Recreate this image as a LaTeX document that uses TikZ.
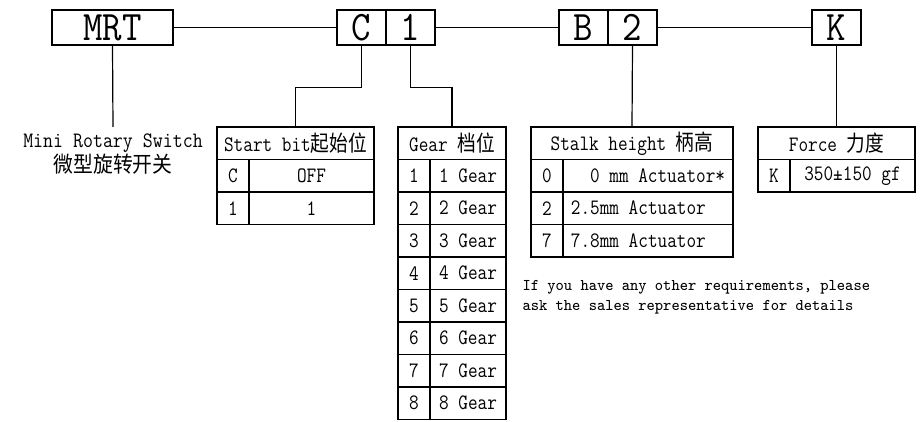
\documentclass[tikz,border=0pt]{standalone}
\usepackage{graphicx}
\usepackage{fontspec}
\newfontfamily\cjk{Noto Sans CJK SC}
\newcommand{\narrow}[2][0.85]{\scalebox{#1}[1]{#2}}
\usepackage{tikz}
\usetikzlibrary{calc}

\begin{document}
\begin{tikzpicture}[x=0.5pt,y=-0.5pt,line width=0.6pt,
		code/.style={draw,inner sep=0pt,minimum height=17.5pt,minimum width=24.5pt,font=\ttfamily\fontsize{21}{21}\selectfont},
		cell/.style={draw,inner sep=0pt,outer sep=0pt,minimum height=16.25pt,font=\ttfamily\fontsize{11}{12}\selectfont},
		keycell/.style={cell,minimum width=16pt}]
			\useasboundingbox (0,0) rectangle (922,422);
			%	codes
			\node[code,minimum width=60.5pt] (MRT) at (112.5,27.5){\narrow[0.9]{MRT}};
			\node[code] (C) at (361.5,27.5){\narrow[0.9]{C}};
			\node[code] (one) at (410.5,27.5){\narrow[0.9]{1}};
			\node[code] (B) at (583.5,27.5){\narrow[0.9]{B}};
			\node[code] (two) at (632.5,27.5){\narrow[0.9]{2}};
			\node[code] (K) at (836.5,27.5){\narrow[0.9]{K}};
			\node[anchor=north,align=center,inner sep=3pt,font=\ttfamily\fontsize{11}{10}\selectfont] (name) at (113,127){\narrow[0.88]{Mini Rotary Switch}\\\narrow[0.9]{\cjk 微型旋转开关}};
			%	start bit
			\node[cell,minimum width=78.5pt] (start) at (295.5,143.25){\narrow{Start bit{\cjk 起始位}}};
			\foreach \k/\v [count=\i] in {C/OFF,1/1}{
				\node[keycell] (s\i) at (233,143.25+32.5*\i){\narrow{\k}};
				\node[cell,minimum width=62.5pt] (sv\i) at (311.5,143.25+32.5*\i){\narrow{\v}};
			}
			%	gear
			\node[cell,minimum width=54pt] (gear) at (452,143.25){\narrow{Gear {\cjk 档位}}};
			\foreach \i in {1,...,8}{
				\node[keycell] (g\i) at (414,143.25+32.5*\i){\narrow{\i}};
				\node[cell,minimum width=38pt] (gv\i) at (468,143.25+32.5*\i){\narrow{\i{} Gear}};
			}
			%	stalk height
			\node[cell,minimum width=101pt] (stalk) at (632,143.25){\narrow{Stalk height {\cjk 柄高}}};
			\foreach \k/\v [count=\i] in {0/\ \ 0 mm Actuator*,2/2.5mm Actuator\ \ ,7/7.8mm Actuator\ \ }{
				\node[keycell] (h\i) at (547,143.25+32.5*\i){\narrow{\k}};
				\node[cell,minimum width=85pt] (hv\i) at (648,143.25+32.5*\i){\narrow{\v}};
			}
			%	force
			\node[cell,minimum width=78.5pt] (force) at (836.5,143.25){\narrow{Force {\cjk 力度}}};
			\node[keycell] (f1) at (774,175.75){\narrow{K}};
			\node[cell,minimum width=62.5pt] (fv1) at (852.5,175.75){\narrow{350±150 gf}};
			\node[anchor=north west,align=left,inner sep=0pt,font=\ttfamily\fontsize{8.2}{10}\selectfont] (note) at (522,280){\narrow[0.95]{If you have any other requirements, please}\\\narrow[0.95]{ask the sales representative for details}};
			\draw (MRT) edge (C)
			(one) edge (B)
			(two) edge (K)
			(MRT.south) edge (name.north)
			(two.south) edge (stalk.north)
			(K.south) edge (force.north);
			\draw (C.south) -- ++(0,42) -| (start.north);
			\draw (one.south) -- ++(0,42) -| (gear.north);
		\end{tikzpicture}
\end{document}
